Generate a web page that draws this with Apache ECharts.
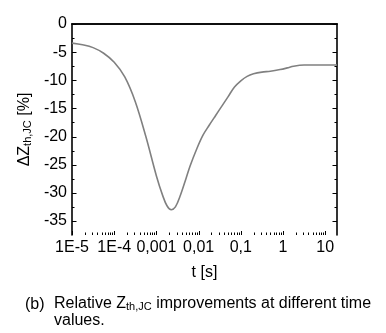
<!DOCTYPE html>
<html><head><meta charset="utf-8">
<script src="https://cdn.jsdelivr.net/npm/echarts@6/dist/echarts.min.js"></script>
<style>html,body{margin:0;padding:0;background:#fff}#c{width:386px;height:333px}</style>
</head><body><div id="c"></div>
<script>
// time values [s]
const tSeconds = [1.0e-5, 1.78e-5, 3.16e-5, 5.62e-5, 1.0e-4, 1.78e-4, 3.16e-4, 5.62e-4,
  1.0e-3, 1.41e-3, 1.78e-3, 2.24e-3, 2.82e-3, 3.72e-3, 5.01e-3, 6.31e-3,
  8.91e-3, 1.26e-2, 1.78e-2, 2.51e-2, 3.55e-2, 5.01e-2, 7.08e-2, 0.1,
  0.141, 0.2, 0.316, 0.501, 0.851, 1.26, 1.78, 3.16, 10, 19];
// relative Zth,JC improvement [%]
const deltaZ = [-3.4, -3.7, -4.2, -5.2, -6.8, -9.4, -13.8, -20.0,
  -27.0, -30.5, -32.3, -33.0, -32.5, -30.4, -27.5, -25.2,
  -22.3, -19.8, -18.0, -16.3, -14.6, -12.9, -11.2, -10.1,
  -9.3, -8.85, -8.55, -8.4, -8.1, -7.8, -7.5, -7.3, -7.3, -7.3];
const xTickValues = [1e-5, 1e-4, 1e-3, 1e-2, 0.1, 1, 10];
const xTickLabels = ['1E-5', '1E-4', '0,001', '0,01', '0,1', '1', '10'];
const yTickValues = [0, -5, -10, -15, -20, -25, -30, -35];
const yTickLabels = ['0', '-5', '-10', '-15', '-20', '-25', '-30', '-35'];
const yMinorValues = [-2.5, -7.5, -12.5, -17.5, -22.5, -27.5, -32.5];
const xMin = 1e-5, xMax = 19, yMin = -37.5, yMax = 0;

const FONT = 'Liberation Sans, Arial, sans-serif';
const FS = 16;

// tick marks (value, kind): 0 x-major, 1 x-minor, 2 y-major, 3 y-minor
const tickData = [];
xTickValues.forEach(v => tickData.push([v, yMin, 0]));
xTickValues.forEach(d => { for (let m = 2; m <= 9; m++) { if (d * m < xMax) tickData.push([d * m, yMin, 1]); } });
yTickValues.forEach(v => tickData.push([xMin, v, 2]));
yMinorValues.forEach(v => tickData.push([xMin, v, 3]));

function renderTick(params, api) {
  const cs = params.coordSys;
  const kind = api.value(2);
  const style = { stroke: '#000', lineWidth: 1 };
  if (kind < 2) {
    const x = Math.round(api.coord([api.value(0), -10])[0]) + 0.5;
    const len = kind === 0 ? 4 : 2.5;
    const yb = cs.y + cs.height;
    return { type: 'line', shape: { x1: x, y1: yb, x2: x, y2: yb - len }, style };
  }
  const y = Math.round(api.coord([1, api.value(1)])[1]) + 0.5;
  const len = kind === 2 ? 4.5 : 2.5;
  const xl = cs.x, xr = cs.x + cs.width;
  return { type: 'group', children: [
    { type: 'line', shape: { x1: xl, y1: y, x2: xl + len, y2: y }, style },
    { type: 'line', shape: { x1: xr, y1: y, x2: xr - len, y2: y }, style }
  ]};
}

const chart = echarts.init(document.getElementById('c'), null, { renderer: 'canvas' });
const axisLine = { show: true, lineStyle: { color: '#000', width: 1.6 } };
chart.setOption({
  animation: false,
  grid: { left: 72, right: 49, top: 24, bottom: 98, containLabel: false },
  xAxis: [{
    type: 'log', logBase: 10, min: xMin, max: xMax, interval: 1,
    axisLine, axisTick: { show: false }, splitLine: { show: false },
    axisLabel: {
      color: '#000', fontFamily: FONT, fontSize: FS, margin: 5, showMaxLabel: true,
      formatter: v => {
        const i = xTickValues.findIndex(t => Math.abs(Math.log10(t) - Math.log10(v)) < 1e-6);
        return i >= 0 ? xTickLabels[i] : '';
      }
    },
    name: 't [s]', nameLocation: 'middle', nameGap: 30,
    nameTextStyle: { color: '#000', fontFamily: FONT, fontSize: FS }
  }, {
    type: 'value', position: 'top', min: 0, max: 1,
    axisLine, axisTick: { show: false }, axisLabel: { show: false }, splitLine: { show: false }
  }],
  yAxis: [{
    type: 'value', min: yMin, max: yMax, interval: 2.5,
    axisLine, axisTick: { show: false }, splitLine: { show: false },
    axisLabel: {
      color: '#000', fontFamily: FONT, fontSize: FS, margin: 5,
      formatter: v => {
        const i = yTickValues.findIndex(t => Math.abs(t - v) < 1e-6);
        return i >= 0 ? yTickLabels[i] : '';
      }
    },
    name: '{a|ΔZ}{s|th,JC}{a| [%]}', nameLocation: 'middle', nameGap: 30, nameRotate: 90,
    nameTextStyle: {
      color: '#000', fontFamily: FONT,
      rich: {
        a: { fontSize: FS, fontFamily: FONT, color: '#000', lineHeight: 18, verticalAlign: 'bottom' },
        s: { fontSize: 11, fontFamily: FONT, color: '#000', lineHeight: 10, verticalAlign: 'bottom' }
      }
    }
  }, {
    type: 'value', position: 'right', min: yMin, max: yMax, interval: 2.5,
    axisLine, axisTick: { show: false }, axisLabel: { show: false }, splitLine: { show: false }
  }],
  series: [{
    type: 'line', xAxisIndex: 0, yAxisIndex: 0,
    data: tSeconds.map((t, i) => [t, deltaZ[i]]),
    smooth: 0.35, symbol: 'none',
    lineStyle: { color: '#808080', width: 1.6 }
  }, {
    type: 'custom', xAxisIndex: 0, yAxisIndex: 0, silent: true, clip: false,
    renderItem: renderTick, data: tickData, z: 5
  }],
  graphic: [
    { type: 'text', left: 25, top: 297, style: { text: '(b)', font: FS + 'px ' + FONT, fill: '#000' } },
    { type: 'text', left: 54, top: 296, style: {
      text: '{a|Relative Z}{s|th,JC}{a| improvements at different time}',
      rich: {
        a: { fontSize: FS, fontFamily: FONT, fill: '#000', lineHeight: 18, verticalAlign: 'bottom' },
        s: { fontSize: 11, fontFamily: FONT, fill: '#000', lineHeight: 10, verticalAlign: 'bottom' }
      } } },
    { type: 'text', left: 54, top: 313, style: { text: 'values.', font: FS + 'px ' + FONT, fill: '#000' } }
  ]
});
</script></body></html>
